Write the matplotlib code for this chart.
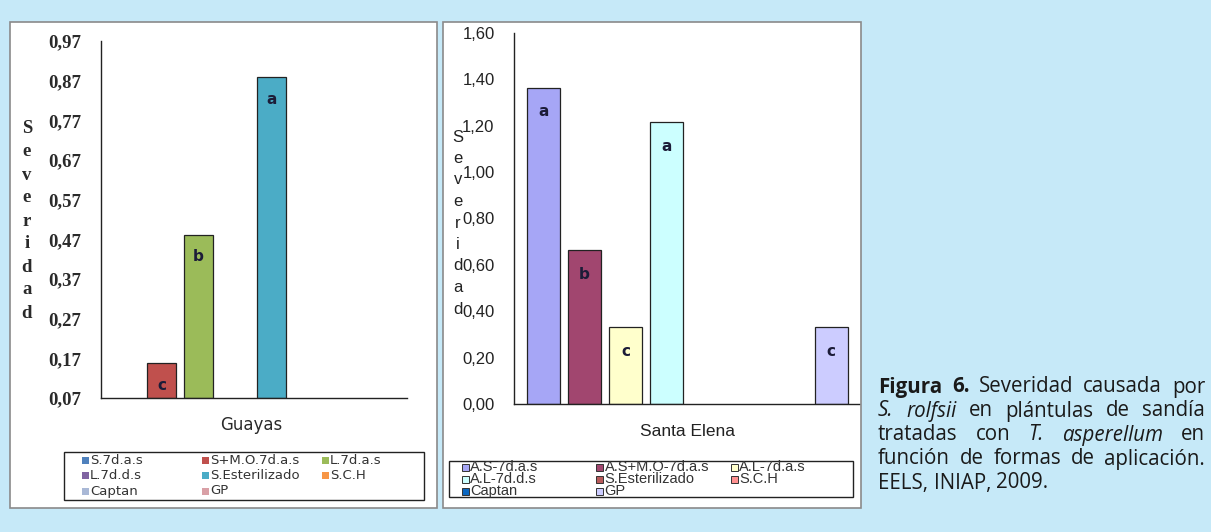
import numpy as np
import matplotlib
matplotlib.use("Agg")
import matplotlib.pyplot as plt
from matplotlib.patches import Rectangle

# Guayas data (nan = treatment without bar)
guayas_labels = ["S.7d.a.s", "S+M.O.7d.a.s", "L.7d.a.s", "L.7d.d.s",
                 "S.Esterilizado", "S.C.H", "Captan", "GP"]
guayas_values = [np.nan, 0.158, 0.481, np.nan, 0.879, np.nan, np.nan, np.nan]
guayas_letters = ["", "c", "b", "", "a", "", "", ""]
guayas_colors = ["#4f81bd", "#c0504d", "#9bbb59", "#8064a2",
                 "#4bacc6", "#f79646", "#a9b8d6", "#d9a0a6"]
guayas_ticks = [0.07, 0.17, 0.27, 0.37, 0.47, 0.57, 0.67, 0.77, 0.87, 0.97]

# Santa Elena data
santa_labels = ["A.S-7d.a.s", "A.S+M.O-7d.a.s", "A.L-7d.a.s", "A.L-7d.d.s",
                "S.Esterilizado", "S.C.H", "Captan", "GP"]
santa_values = [1.363, 0.664, 0.332, 1.216, np.nan, np.nan, np.nan, 0.332]
santa_letters = ["a", "b", "c", "a", "", "", "", "c"]
santa_colors = ["#a6a6f6", "#a1466f", "#ffffcc", "#ccffff",
                "#b85a5a", "#ff9090", "#0a66c0", "#ccccff"]
santa_ticks = [0.0, 0.2, 0.4, 0.6, 0.8, 1.0, 1.2, 1.4, 1.6]

W, H = 1211, 532
BG = "#c6e9f8"


def fx(px):
    return px / W


def fy(py):
    return 1 - py / H


fig = plt.figure(figsize=(W / 100, H / 100), dpi=100, facecolor=BG)

# white panels behind the axes
for x0, x1 in [(10, 437), (443, 861)]:
    fig.patches.append(Rectangle((fx(x0), fy(508)), fx(x1 - x0), (508 - 22) / H,
                                 transform=fig.transFigure, facecolor="white",
                                 edgecolor="#8a8a8a", linewidth=1.2, zorder=-5))


def bar_panel(rect, values, letters, colors, ticks, ylim, xlim, tickfmt,
              tickfont, letter_off):
    ax = fig.add_axes(rect)
    ax.set_facecolor("none")
    x = np.arange(len(values))
    for i, v in enumerate(values):
        if np.isnan(v):
            continue
        ax.bar(x[i], v - ylim[0], bottom=ylim[0], width=0.8, color=colors[i],
               edgecolor="#222222", linewidth=0.9)
        ax.annotate(letters[i], (x[i], v), xytext=(0, -letter_off),
                    textcoords="offset pixels", ha="center", va="center",
                    fontsize=11, fontweight="bold", color="#1c1c38",
                    family="DejaVu Sans")
    ax.set_xlim(*xlim)
    ax.set_ylim(*ylim)
    ax.set_yticks(ticks)
    ax.set_yticklabels([tickfmt.format(t).replace(".", ",") for t in ticks],
                       **tickfont)
    ax.set_xticks([])
    ax.tick_params(axis="y", length=0, pad=14)
    for s in ["top", "right"]:
        ax.spines[s].set_visible(False)
    for s in ["left", "bottom"]:
        ax.spines[s].set_color("#222222")
        ax.spines[s].set_linewidth(1.0)
    return ax


ax1 = bar_panel([fx(101), fy(398), fx(407 - 101), (398 - 41) / H],
                guayas_values, guayas_letters, guayas_colors, guayas_ticks,
                (0.07, 0.97), (-0.67, 7.73), "{:.2f}",
                dict(family="Liberation Serif", fontweight="bold", fontsize=13.5,
                     color="#2a2a2a"), 22)
ax2 = bar_panel([fx(514), fy(404), fx(859 - 514), (404 - 33) / H],
                santa_values, santa_letters, santa_colors, santa_ticks,
                (0.0, 1.6), (-0.72, 7.68), "{:.2f}",
                dict(family="Liberation Sans", fontsize=12, color="#222222"), 24)

# stacked y labels
for i, ch in enumerate("Severidad"):
    fig.text(fx(27), fy(129 + i * 23), ch, ha="center", va="center",
             family="Liberation Serif", fontweight="bold", fontsize=13.5,
             color="#2a2a2a")
    fig.text(fx(458), fy(137 + i * 21.5), ch, ha="center", va="center",
             family="Liberation Sans", fontsize=12, color="#222222")

# x labels
fig.text(fx(251), fy(425), "Guayas", ha="center", va="center",
         family="DejaVu Sans", fontsize=12, color="#2a2a2a")
fig.text(fx(688), fy(431), "Santa Elena", ha="center", va="center",
         family="Liberation Sans", fontsize=12.5, color="#222222")


def legend_box(x0, x1, y0, y1, labels, colors, rows, font, sq, edge, first):
    fig.patches.append(Rectangle((fx(x0), fy(y1)), fx(x1 - x0), (y1 - y0) / H,
                                 transform=fig.transFigure, facecolor="white",
                                 edgecolor="#222222", linewidth=1.0))
    colw = (x1 - x0) / 3
    for i, (lab, c) in enumerate(zip(labels, colors)):
        r, k = divmod(i, 3)
        mx = x0 + first + k * colw
        my = rows[r]
        fig.patches.append(Rectangle((fx(mx - sq / 2), fy(my + sq / 2)), fx(sq), sq / H,
                                     transform=fig.transFigure, facecolor=c,
                                     edgecolor=edge, linewidth=0.7))
        fig.text(fx(mx + sq / 2 + 1.5), fy(my), lab, ha="left", va="center",
                 color="#333333", **font)


legend_box(64, 424, 452, 500, guayas_labels, guayas_colors, [460, 475.5, 491],
           dict(family="DejaVu Sans", fontsize=9.5), 7, "none", 21)
legend_box(449, 853, 461, 497, santa_labels, santa_colors, [467, 479, 491],
           dict(family="Liberation Sans", fontsize=10.5), 7, "#333333", 16)

# caption, justified
cap_lines = [
    [("Figura", "bold"), ("6.", "bold"), ("Severidad", ""), ("causada", ""), ("por", "")],
    [("S.", "italic"), ("rolfsii", "italic"), ("en", ""), ("plántulas", ""),
     ("de", ""), ("sandía", "")],
    [("tratadas", ""), ("con", ""), ("T.", "italic"), ("asperellum", "italic"), ("en", "")],
    [("función", ""), ("de", ""), ("formas", ""), ("de", ""), ("aplicación.", "")],
    [("EELS,", ""), ("INIAP,", ""), ("2009.", "")],
]
cap_x0, cap_x1 = 878, 1205
cap_y = [387, 411, 435, 459, 483]
renderer = fig.canvas.get_renderer()
for li, words in enumerate(cap_lines):
    arts = []
    for w, st in words:
        t = fig.text(0, fy(cap_y[li]), w, ha="left", va="center",
                     family="Open Sans", fontsize=14.8, color="#1a1a1a",
                     fontweight="bold" if st == "bold" else "normal",
                     fontstyle="italic" if st == "italic" else "normal")
        arts.append(t)
    widths = [a.get_window_extent(renderer).width for a in arts]
    if li == len(cap_lines) - 1:
        gap = 5.5
    else:
        gap = (cap_x1 - cap_x0 - sum(widths)) / (len(arts) - 1)
    x = cap_x0
    for a, wd in zip(arts, widths):
        a.set_x(fx(x))
        x += wd + gap

fig.savefig("out.png", dpi=100, facecolor=BG)
